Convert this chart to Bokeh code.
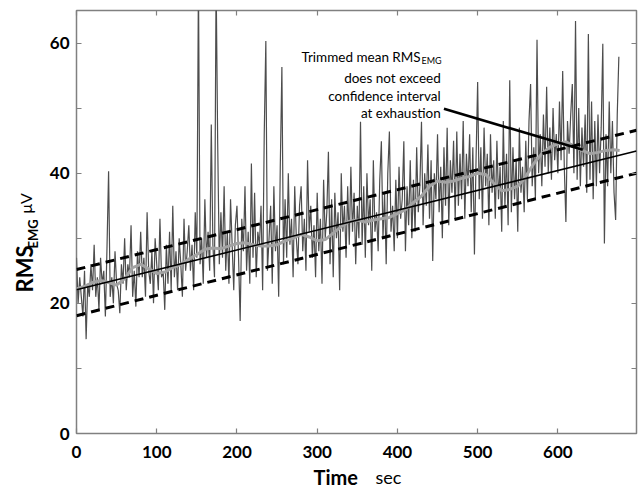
import math
from bokeh.plotting import figure
from bokeh.models import Label, LinearAxis, FixedTicker
from bokeh.layouts import row, column
from bokeh.core.properties import value
from bokeh.embed import file_html
from bokeh.resources import INLINE

# ---------------- data ----------------
# raw RMS EMG signal, sampled every 2 s starting at 0 s
emg = (
    [27, 20, 24, 21, 18, 25, 14.5, 23, 21, 26] +
    [22, 29, 21, 24, 19, 27, 23, 25, 18, 28.5] +
    [40.3, 21, 24, 20, 28, 23, 22, 18.5, 26, 23] +
    [30, 22, 26, 24, 32, 21, 25, 19.5, 28, 24] +
    [31, 24, 27, 21, 34, 25, 23, 28, 20, 30] +
    [26, 22, 33, 24, 25, 19, 29, 23, 31, 22] +
    [35, 24, 28, 22, 30, 26, 21, 33, 25, 28] +
    [32, 25, 29, 22, 34, 27, 70, 26, 30, 23] +
    [36, 27, 31, 25, 47.5, 29, 24, 70, 44.5, 26] +
    [34, 27, 38, 25, 31, 23, 36, 29, 22, 32] +
    [35, 27, 17.3, 33, 28, 38, 25, 31, 23, 41.5] +
    [27, 37, 24, 31, 29, 35, 22, 46, 60.3, 25] +
    [30, 35, 23, 38, 28, 32, 21, 41, 56.3, 26] +
    [36, 27, 40, 29, 33, 24, 38, 30, 26, 35] +
    [38, 28, 33, 25, 42, 31, 35, 27, 32, 24] +
    [37, 28, 33, 23, 39, 30, 34, 43.3, 26, 36] +
    [24, 37, 30, 34, 22, 40, 31, 35, 27, 38] +
    [29, 41, 31, 37, 26, 35, 30, 47.9, 29, 38] +
    [27, 40, 32, 36, 25, 42, 31, 34, 28, 39] +
    [44.9, 30, 37, 26, 40, 46.4, 31, 35, 28, 39] +
    [30, 41, 33, 36, 44.9, 28, 38, 32, 42, 30] +
    [39, 31, 44, 34, 38, 47.9, 32, 40, 35, 44.4] +
    [33, 42, 26.5, 40, 36, 46, 34, 41, 30, 44] +
    [35, 47, 32, 42, 37, 45, 33, 46.4, 35, 43] +
    [36, 48, 33, 43, 38, 46, 34, 44, 27.5, 42] +
    [54, 36, 44, 33, 47, 38, 43, 32, 46, 37] +
    [42, 33, 45, 36, 41, 31, 48, 35, 43, 32] +
    [54.3, 34, 44, 36, 42, 31, 47, 37, 41, 34] +
    [45, 36, 48, 53.7, 38, 44, 36, 60.5, 40, 46] +
    [38, 49, 41, 53.3, 40, 47, 39, 50, 42, 46] +
    [40, 51, 42, 55.7, 41, 32.5, 48, 43, 49, 53.7] +
    [40, 63.4, 39, 50, 38, 47, 41, 49, 37, 61.4] +
    [39, 51, 36, 48, 38, 49, 40, 47, 59.9, 29.2] +
    [46, 38, 51, 40, 48, 37, 32.8, 49, 57.9]
)
emg_t = list(range(0, 2 * len(emg), 2))

# trimmed mean RMS EMG
tm_t = [0, 10, 20, 30, 40, 50, 60, 70, 80, 90,
        100, 110, 120, 130, 140, 150, 160, 170, 180, 190,
        200, 210, 220, 230, 240, 250, 260, 270, 280, 290,
        300, 310, 320, 330, 340, 350, 360, 370, 380, 390,
        400, 410, 420, 430, 440, 450, 460, 470, 480, 490,
        500, 510, 520, 530, 540, 550, 560, 570, 580, 590,
        600, 610, 620, 630, 640, 650, 660, 670, 677]
tm_v = [22.2, 22.6, 23.2, 23.5, 23.2, 22.8, 23.8, 25.5, 26.0, 25.3,
        24.6, 24.8, 25.5, 26.0, 26.8, 27.5, 28.3, 28.5, 28.4, 28.8,
        29.2, 29.3, 29.0, 28.8, 28.8, 29.0, 29.6, 30.0, 30.6, 30.2,
        29.6, 29.8, 30.8, 31.8, 32.6, 32.8, 32.5, 32.8, 33.0, 33.2,
        33.8, 34.4, 35.5, 36.5, 38.0, 38.8, 38.6, 38.8, 39.2, 39.5,
        40.0, 39.8, 38.5, 37.3, 37.5, 38.0, 39.5, 41.5, 43.0, 44.0,
        44.5, 44.8, 44.2, 43.5, 43.0, 43.2, 43.5, 43.6, 43.5]

# regression line and confidence interval
reg_x = [0, 698]
reg_y = [22.1, 43.4]
ci_upper = [25.2, 46.6]
ci_lower = [18.1, 40.0]

# annotation pointer (text end -> trimmed mean at exhaustion)
ptr_x = [458, 631]
ptr_y = [49.9, 43.6]

x_ticks = [0, 100, 200, 300, 400, 500, 600]
y_label_ticks = [0, 20, 40, 60]
y_plain_ticks = [10, 30, 50]
y_all_ticks = [0, 10, 20, 30, 40, 50, 60]

# ---------------- main figure ----------------
FONT = "Lato"
AXIS_GRAY = "#808080"
LEFT_B, RIGHT_B = 36, 4

p = figure(width=600, height=465, x_range=(0, 698), y_range=(0, 65),
           output_backend="svg", toolbar_location=None,
           min_border_left=LEFT_B, min_border_right=RIGHT_B,
           min_border_top=10, min_border_bottom=32)
p.xgrid.visible = False
p.ygrid.visible = False
p.outline_line_color = AXIS_GRAY
p.outline_line_width = 1.5

p.xaxis.ticker = FixedTicker(ticks=x_ticks, minor_ticks=[])
p.yaxis.ticker = FixedTicker(ticks=y_label_ticks, minor_ticks=y_plain_ticks)
for ax in (p.xaxis[0], p.yaxis[0]):
    ax.axis_line_color = None
    ax.major_tick_in = 5
    ax.major_tick_out = 0
    ax.minor_tick_in = 5
    ax.minor_tick_out = 0
    ax.major_tick_line_color = AXIS_GRAY
    ax.minor_tick_line_color = AXIS_GRAY
    ax.major_tick_line_width = 1.2
    ax.minor_tick_line_width = 1.2
    ax.major_label_text_font = FONT
    ax.major_label_text_font_style = "bold"
    ax.major_label_text_font_size = "17px"
    ax.major_label_text_color = "black"
p.xaxis.major_label_standoff = 12
p.yaxis.major_label_standoff = 7

# mirror ticks on top and right (unlabelled: drawn as minor ticks only)
top_axis = LinearAxis(ticker=FixedTicker(ticks=[], minor_ticks=x_ticks))
right_axis = LinearAxis(ticker=FixedTicker(ticks=[], minor_ticks=y_all_ticks))
for ax in (top_axis, right_axis):
    ax.axis_line_color = None
    ax.major_tick_line_color = None
    ax.minor_tick_in = 5
    ax.minor_tick_out = 0
    ax.minor_tick_line_color = AXIS_GRAY
    ax.minor_tick_line_width = 1.2
    ax.major_label_standoff = 0
p.add_layout(top_axis, "above")
p.add_layout(right_axis, "right")

# data
p.line(emg_t, emg, line_color="#4d4d4d", line_width=1.2)
p.line(tm_t, tm_v, line_color="#a3a3a3", line_width=3)
p.line(reg_x, reg_y, line_color="black", line_width=1.6)
p.line(reg_x, ci_upper, line_color="black", line_width=3, line_dash="9 6")
p.line(reg_x, ci_lower, line_color="black", line_width=3, line_dash="9 6")
p.line(ptr_x, ptr_y, line_color="black", line_width=2.6)

def add_label(x, y, text, size, style="normal", align="left"):
    p.add_layout(Label(x=x, y=y, text=text, text_font=FONT, text_font_size=size,
                       text_font_style=style, text_align=align,
                       text_baseline="alphabetic", text_color="black"))

add_label(429, 57.8, "Trimmed mean RMS", "13.5px", align="right")
add_label(430, 57.3, "EMG", "9px")
add_label(454, 54.6, "does not exceed", "13.5px", align="right")
add_label(454, 51.9, "confidence interval", "13.5px", align="right")
add_label(454, 49.3, "at exhaustion", "13.5px", align="right")

# ---------------- title strips (coordinates in page pixels) ----------------
def strip(width, height, xr, yr, **borders):
    f = figure(width=width, height=height, x_range=xr, y_range=yr,
               output_backend="svg", toolbar_location=None,
               x_axis_location=None, y_axis_location=None, min_border=0, **borders)
    f.xgrid.visible = False
    f.ygrid.visible = False
    f.outline_line_color = None
    return f

def strip_text(f, x, y, text, size, style="normal", angle=0.0):
    f.text(x=[x], y=[y], text=[text], angle=angle,
           text_font=value(FONT), text_font_style=style, text_font_size=size,
           text_align="left", text_baseline="middle", text_color="black")

# left strip: page x 0..40, page y 0..490 (data y = 490 - page y)
left = strip(40, 490, (0, 40), (0, 490))
strip_text(left, 24, 490 - 292, "RMS", "22px", "bold", math.pi / 2)
strip_text(left, 32.5, 490 - 248, "EMG", "13px", "bold", math.pi / 2)
strip_text(left, 24.5, 490 - 213, "\u03bcV", "16px", "normal", math.pi / 2)

# bottom strip: frame spans page x 76..636, page y 465..490 (data y = 490 - page y)
bottom = strip(600, 25, (76, 636), (0, 25),
               min_border_left=LEFT_B, min_border_right=RIGHT_B)
strip_text(bottom, 313, 490 - 476.5, "Time", "20px", "bold")
strip_text(bottom, 375, 490 - 476.5, "sec", "18px")

layout = row(left, column(p, bottom))
open("out.html", "w").write(file_html(layout, INLINE))
